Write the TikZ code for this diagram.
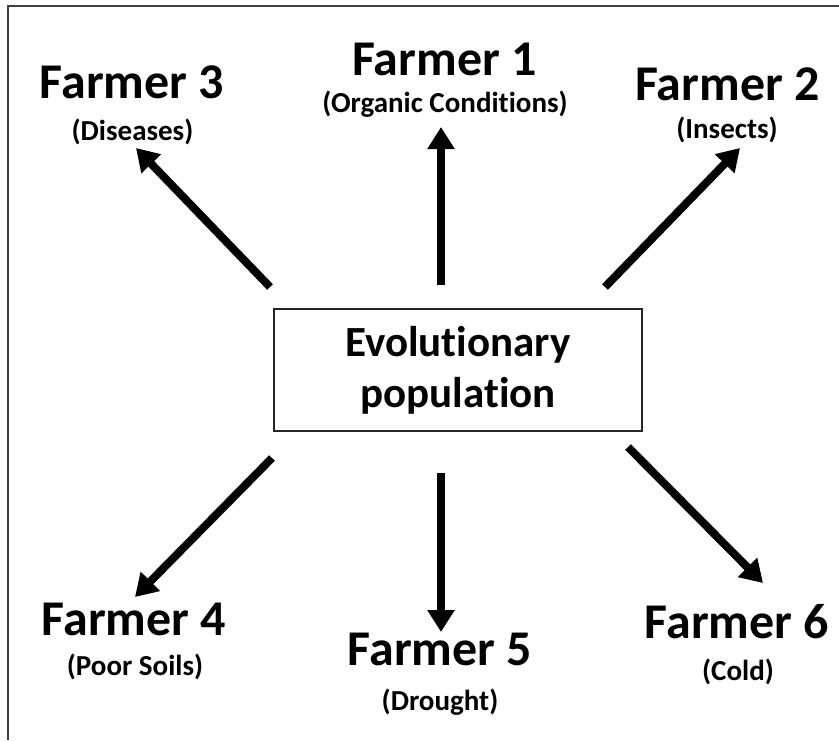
\documentclass[tikz,border=0pt]{standalone}
\usepackage{fontspec}
\setmainfont{Carlito}[Ligatures=NoCommon]
\usetikzlibrary{arrows.meta}

\begin{document}
\begin{tikzpicture}[x=1pt,y=-1pt,
	farmer/.style={anchor=base,font=\fontsize{50}{58}\selectfont\bfseries},
	cause/.style={anchor=base,font=\fontsize{29}{34}\selectfont\bfseries},
	arr/.style={-{Triangle[length=22pt,width=26pt]},line width=8pt}]

	\useasboundingbox (0,0) rectangle (839,740);
	\draw[line width=2pt,black!75] (8,740) |- (839,6);

	\node[draw, line width=1.5pt, black!85, text=black, minimum width=368pt, minimum height=122pt, align=center, font=\fontsize{43}{51}\selectfont\bfseries] (pop) at (458,370) {Evolutionary\\population};

	\node[farmer] (f1) at (444.5,75) {Farmer 1};
	\node[cause] (c1) at (445,112) {(Organic Conditions)};
	\node[farmer] (f2) at (727.5,100) {Farmer 2};
	\node[cause] (c2) at (727,138) {(Insects)};
	\node[farmer] (f3) at (132,98) {Farmer 3};
	\node[cause] (c3) at (132.5,140) {(Diseases)};
	\node[farmer] (f4) at (134,635) {Farmer 4};
	\node[cause] (c4) at (135,675) {(Poor Soils)};
	\node[farmer] (f5) at (440,665) {Farmer 5};
	\node[cause] (c5) at (440,710) {(Drought)};
	\node[farmer] (f6) at (737,638) {Farmer 6};
	\node[cause] (c6) at (738,680) {(Cold)};

	\coordinate (t1) at (441,285); \coordinate (h1) at (441,127);
	\coordinate (t2) at (605,287); \coordinate (h2) at (740,148);
	\coordinate (t3) at (270,287); \coordinate (h3) at (136,148);
	\coordinate (t4) at (272,458); \coordinate (h4) at (135,597);
	\coordinate (t5) at (441,473); \coordinate (h5) at (441,632);
	\coordinate (t6) at (628,447); \coordinate (h6) at (763,583);

	\draw (t1) edge[arr] (h1);
	\draw (t2) edge[arr] (h2);
	\draw (t3) edge[arr] (h3);
	\draw (t4) edge[arr] (h4);
	\draw (t5) edge[arr] (h5);
	\draw (t6) edge[arr] (h6);

\end{tikzpicture}
\end{document}
